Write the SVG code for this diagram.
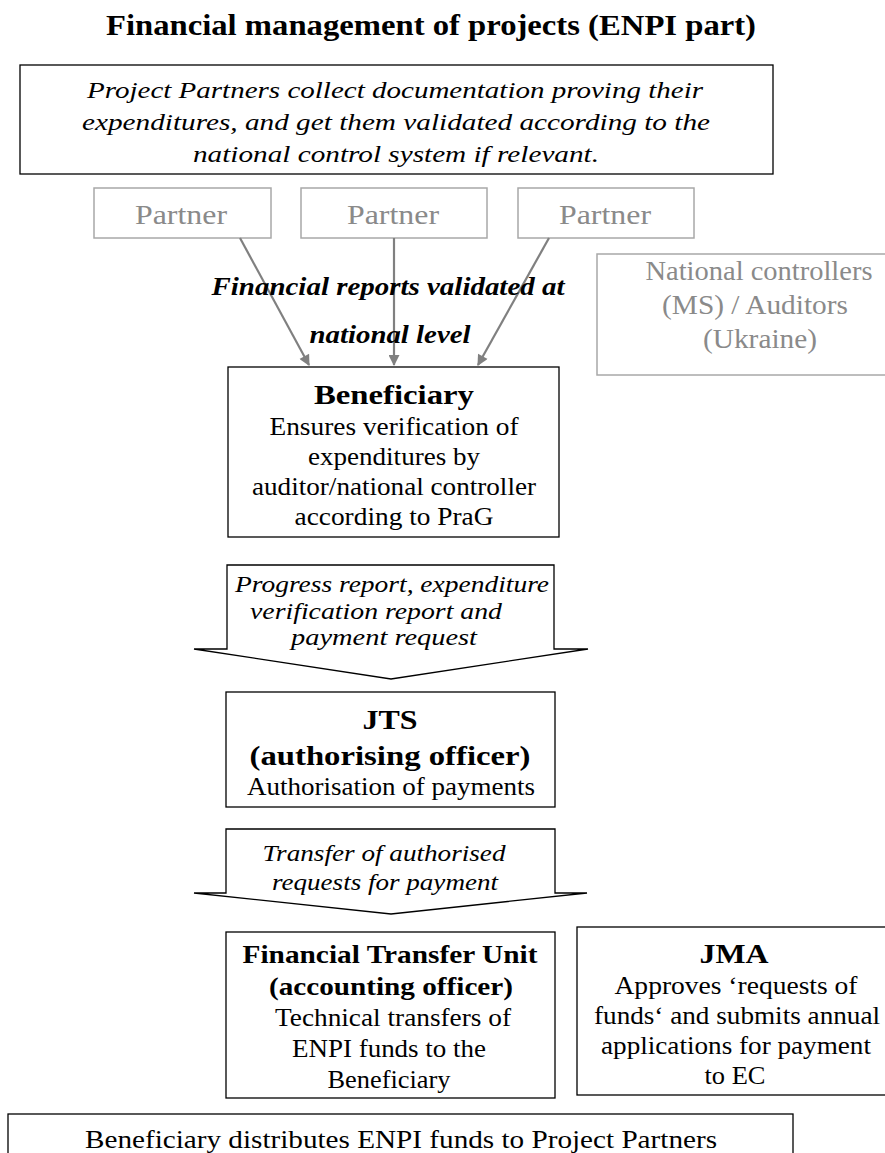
<svg xmlns="http://www.w3.org/2000/svg" width="885" height="1153" viewBox="0 0 885 1153">
<style>
text{font-family:"Liberation Serif","Times New Roman",serif;text-anchor:middle;fill:#000}
.box{fill:#fff;stroke:#000;stroke-width:1.3}
.gbox{fill:#fff;stroke:#a8a8a8;stroke-width:1.5}
.g{fill:#8a8a8a}
.it{font-style:italic;font-size:24px}
.b{font-weight:bold}
.n{font-size:25px}
.conn{stroke:#808080;stroke-width:2.2;fill:none}
</style>
<defs>
<marker id="ah" viewBox="0 0 10 10" refX="9" refY="5" markerWidth="6" markerHeight="5" orient="auto" markerUnits="strokeWidth">
<path d="M0,0 L10,5 L0,10 z" fill="#808080"/>
</marker>
</defs>
<rect width="885" height="1153" fill="#fff"/>
<g id="title">
<text x="431" y="35" class="b" font-size="30" textLength="650" lengthAdjust="spacingAndGlyphs">Financial management of projects (ENPI part)</text>
</g>
<g id="intro">
<rect class="box" x="20" y="65" width="753" height="109"/>
<text x="395" y="98" class="it" textLength="616" lengthAdjust="spacingAndGlyphs">Project Partners collect documentation proving their</text>
<text x="396" y="130" class="it" textLength="628" lengthAdjust="spacingAndGlyphs">expenditures, and get them validated according to the</text>
<text x="396" y="162" class="it" textLength="406" lengthAdjust="spacingAndGlyphs">national control system if relevant.</text>
</g>
<g id="partner1">
<rect class="gbox" x="94" y="188" width="177" height="50"/>
<text x="181" y="224" class="g" font-size="28" textLength="92" lengthAdjust="spacingAndGlyphs">Partner</text>
</g>
<g id="partner2">
<rect class="gbox" x="301" y="188" width="186" height="50"/>
<text x="393" y="224" class="g" font-size="28" textLength="92" lengthAdjust="spacingAndGlyphs">Partner</text>
</g>
<g id="partner3">
<rect class="gbox" x="518" y="188" width="176" height="50"/>
<text x="605" y="224" class="g" font-size="28" textLength="92" lengthAdjust="spacingAndGlyphs">Partner</text>
</g>
<g id="national">
<rect class="gbox" x="597" y="254" width="322" height="121"/>
<text x="759" y="280" class="g" font-size="27" textLength="227" lengthAdjust="spacingAndGlyphs">National controllers</text>
<text x="755" y="314" class="g" font-size="27" textLength="186" lengthAdjust="spacingAndGlyphs">(MS) / Auditors</text>
<text x="760" y="348" class="g" font-size="27" textLength="114" lengthAdjust="spacingAndGlyphs">(Ukraine)</text>
</g>
<g id="connectors">
<line class="conn" x1="240" y1="238" x2="309" y2="365" marker-end="url(#ah)"/>
<line class="conn" x1="394" y1="238" x2="394" y2="365" marker-end="url(#ah)"/>
<line class="conn" x1="549" y1="238" x2="478" y2="365" marker-end="url(#ah)"/>
</g>
<g id="label-financial-reports">
<text x="388" y="295" class="b" font-style="italic" font-size="26" textLength="353" lengthAdjust="spacingAndGlyphs">Financial reports validated at</text>
<text x="390" y="343" class="b" font-style="italic" font-size="26" textLength="161" lengthAdjust="spacingAndGlyphs">national level</text>
</g>
<g id="beneficiary">
<rect class="box" x="228" y="367" width="331" height="170"/>
<text x="394" y="404" class="b" font-size="27" textLength="160" lengthAdjust="spacingAndGlyphs">Beneficiary</text>
<text x="394" y="435" class="n" textLength="249" lengthAdjust="spacingAndGlyphs">Ensures verification of</text>
<text x="394" y="465" class="n" textLength="172" lengthAdjust="spacingAndGlyphs">expenditures by</text>
<text x="394" y="495" class="n" textLength="284" lengthAdjust="spacingAndGlyphs">auditor/national controller</text>
<text x="394" y="525" class="n" textLength="199" lengthAdjust="spacingAndGlyphs">according to PraG</text>
</g>
<g id="progress-arrow">
<path class="box" d="M227,565 H554 V649 H588 L391,679 L194,649 H227 Z"/>
<text x="392" y="592" class="it" textLength="314" lengthAdjust="spacingAndGlyphs">Progress report, expenditure</text>
<text x="376" y="619" class="it" textLength="252" lengthAdjust="spacingAndGlyphs">verification report and</text>
<text x="384" y="645" class="it" textLength="186" lengthAdjust="spacingAndGlyphs">payment request</text>
</g>
<g id="jts">
<rect class="box" x="226" y="692" width="329" height="115"/>
<text x="390" y="729" class="b" font-size="28" textLength="55" lengthAdjust="spacingAndGlyphs">JTS</text>
<text x="390" y="765" class="b" font-size="28" textLength="281" lengthAdjust="spacingAndGlyphs">(authorising officer)</text>
<text x="391" y="795" class="n" textLength="288" lengthAdjust="spacingAndGlyphs">Authorisation of payments</text>
</g>
<g id="transfer-arrow">
<path class="box" d="M226,829 H555 V893 H587 L391,914 L194,893 H226 Z"/>
<text x="384" y="861" class="it" textLength="243" lengthAdjust="spacingAndGlyphs">Transfer of authorised</text>
<text x="385" y="890" class="it" textLength="226" lengthAdjust="spacingAndGlyphs">requests for payment</text>
</g>
<g id="ftu">
<rect class="box" x="226" y="932" width="329" height="166"/>
<text x="390" y="963" class="b" font-size="26" textLength="295" lengthAdjust="spacingAndGlyphs">Financial Transfer Unit</text>
<text x="391" y="995" class="b" font-size="26" textLength="244" lengthAdjust="spacingAndGlyphs">(accounting officer)</text>
<text x="393" y="1026" class="n" textLength="236" lengthAdjust="spacingAndGlyphs">Technical transfers of</text>
<text x="389" y="1057" class="n" textLength="194" lengthAdjust="spacingAndGlyphs">ENPI funds to the</text>
<text x="389" y="1088" class="n" textLength="123" lengthAdjust="spacingAndGlyphs">Beneficiary</text>
</g>
<g id="jma">
<rect class="box" x="577" y="927" width="318" height="168"/>
<text x="734" y="963" class="b" font-size="27" textLength="69" lengthAdjust="spacingAndGlyphs">JMA</text>
<text x="736" y="994" class="n" textLength="243" lengthAdjust="spacingAndGlyphs">Approves ‘requests of</text>
<text x="737" y="1024" class="n" textLength="286" lengthAdjust="spacingAndGlyphs">funds‘ and submits annual</text>
<text x="736" y="1054" class="n" textLength="270" lengthAdjust="spacingAndGlyphs">applications for payment</text>
<text x="735" y="1084" class="n" textLength="61" lengthAdjust="spacingAndGlyphs">to EC</text>
</g>
<g id="distribution">
<rect class="box" x="8" y="1114" width="785" height="60"/>
<text x="401" y="1148" class="n" textLength="632" lengthAdjust="spacingAndGlyphs">Beneficiary distributes ENPI funds to Project Partners</text>
</g>
</svg>
